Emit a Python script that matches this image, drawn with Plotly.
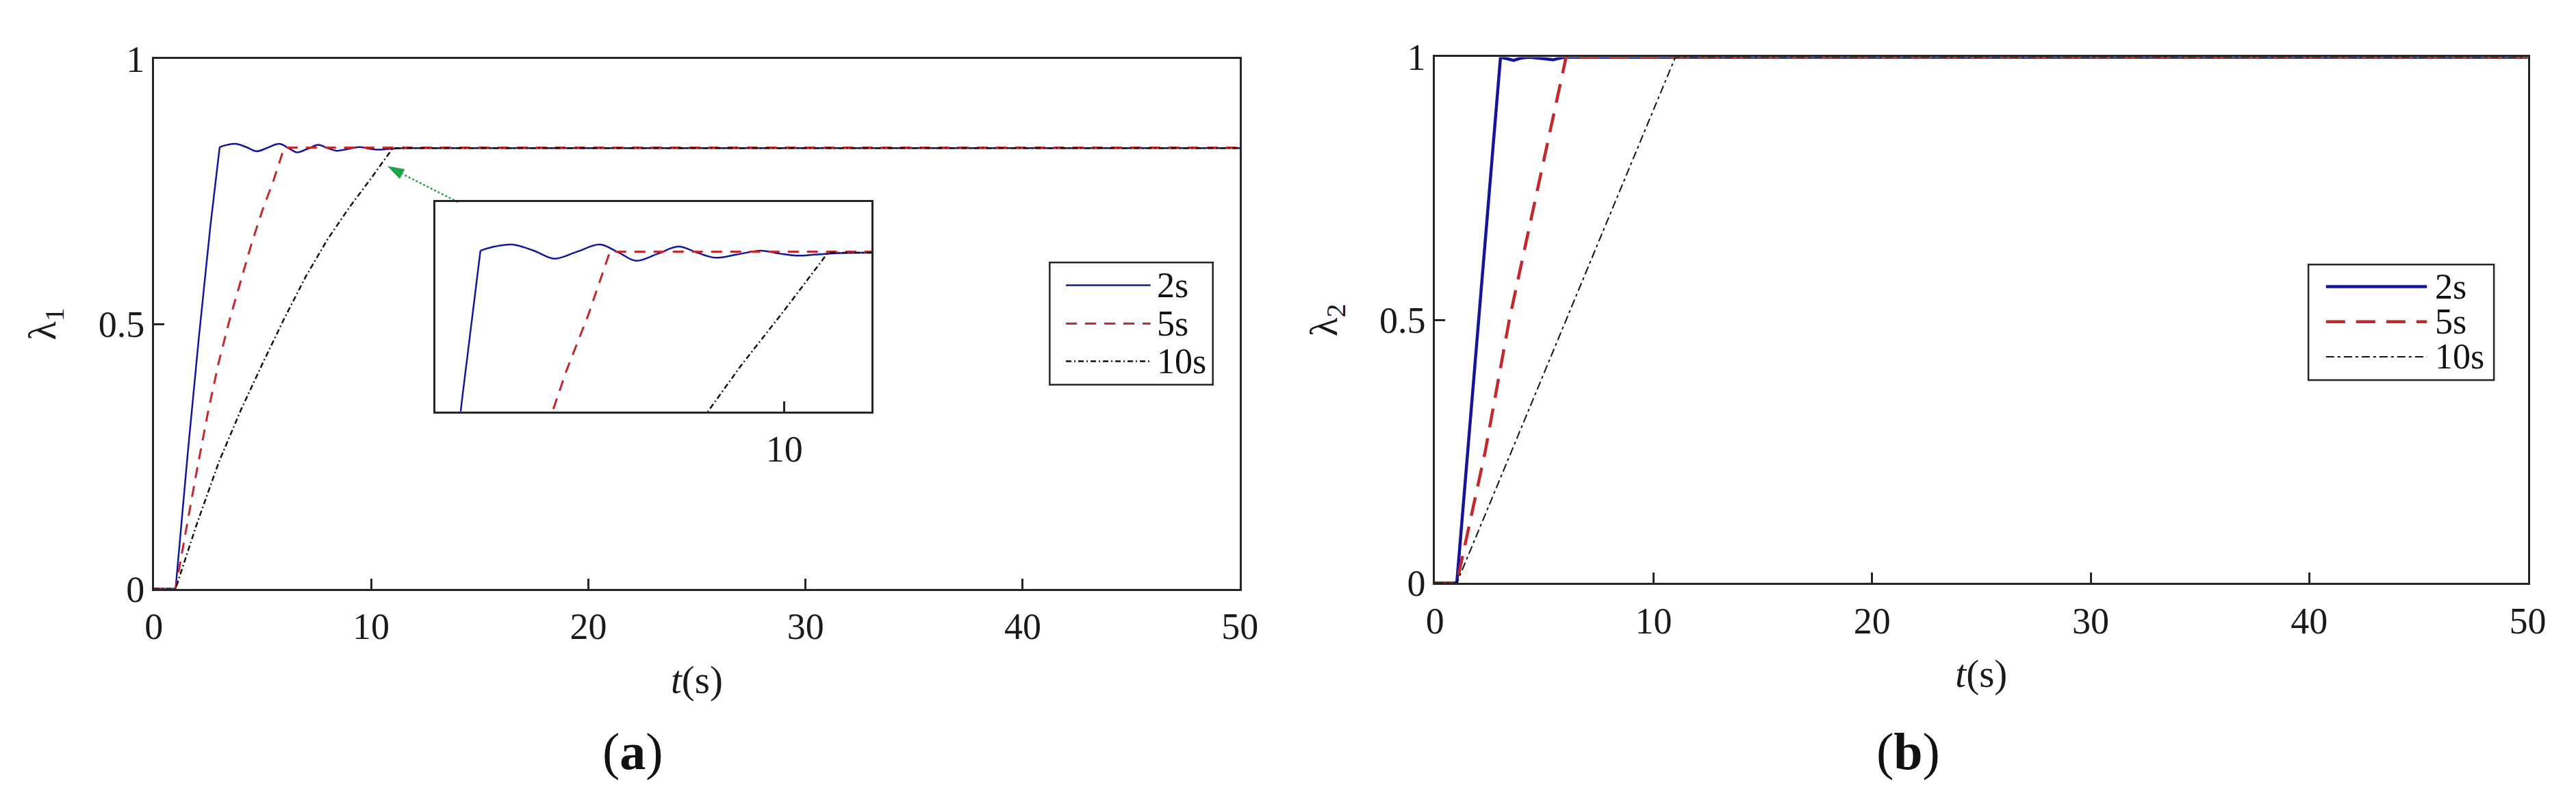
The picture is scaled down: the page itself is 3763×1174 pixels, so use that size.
import plotly.graph_objects as go

W, H = 3763, 1174
FONT = "Liberation Serif"

# ---------------- data: panel (a), lambda_1 ----------------
t_a_2s = [0, 1.0, 1.56, 2.08, 2.60, 3.03, 3.35, 3.76, 4.25, 4.73, 5.25, 5.77, 6.20, 6.60,
          7.10, 7.57, 8.00, 8.41, 8.90, 9.45, 9.90, 10.28, 10.70, 11.20, 12.0, 50.0]
v_a_2s = [0, 0, 0.256, 0.478, 0.684, 0.834, 0.838, 0.840, 0.834, 0.826, 0.833, 0.840, 0.832, 0.824,
          0.831, 0.838, 0.832, 0.827, 0.830, 0.834, 0.831, 0.829, 0.830, 0.8315, 0.832, 0.832]
knee_a_2s = 5

t_a_5s = [0, 1, 1.5, 2, 2.5, 3, 3.5, 4, 4.5, 5, 5.5, 6, 50]
v_a_5s = [0, 0, 0.115, 0.228, 0.335, 0.43, 0.51, 0.58, 0.652, 0.715, 0.77, 0.833, 0.833]

t_a_10s = [0, 1, 2, 3, 4, 5, 6, 7, 8, 9, 10, 11, 50]
v_a_10s = [0, 0, 0.125, 0.24, 0.337, 0.425, 0.51, 0.59, 0.66, 0.72, 0.775, 0.832, 0.832]

# ---------------- data: panel (b), lambda_2 ----------------
t_b_2s = [0, 1, 1.5, 2, 2.5, 3, 3.3, 3.6, 3.9, 4.3, 5.0, 5.4, 5.8, 6.2, 50]
v_b_2s = [0, 0, 0.25, 0.5, 0.75, 1.0, 0.997, 0.994, 0.998, 1.0, 0.997, 0.995, 0.999, 1.0, 1.0]

t_b_5s = [0, 1, 2.3, 3.4, 4.7, 6, 50]
v_b_5s = [0, 0, 0.25, 0.5, 0.75, 1.0, 1.0]

t_b_10s = [0, 1, 6, 11, 50]
v_b_10s = [0, 0, 0.5, 1.0, 1.0]

series_labels = ["2s", "5s", "10s"]
x_ticks = [0, 10, 20, 30, 40, 50]
y_ticks = [0, 0.5, 1]
y_ticktext = ["0", "0.5", "1"]
inset_x_ticks = [10]

# pointer (zoom arrow) in panel (a) data coordinates: tail at inset, head at curve
arrow_tail = (14.0, 0.730)
arrow_base = (11.45, 0.783)
arrow_head = (10.75, 0.798)

BLUE = "#15159a"
RED = "#c3282d"
BLACK = "#111111"
GREEN = "#1ea34a"

style_a = [dict(color=BLUE, width=2.5, dash="solid"),
           dict(color=RED, width=3, dash="16px,12px"),
           dict(color=BLACK, width=2.5, dash="8px,4px,2px,4px")]
style_b = [dict(color=BLUE, width=4.5, dash="solid"),
           dict(color=RED, width=4.5, dash="28px,16px"),
           dict(color=BLACK, width=2, dash="12px,5px,4px,5px")]

fig = go.Figure()


def add_series(xa, ya, t, v, style, knee=None):
    if knee is None:
        fig.add_trace(go.Scatter(x=t, y=v, mode="lines", line=style, xaxis=xa, yaxis=ya,
                                 showlegend=False, hoverinfo="skip"))
    else:
        fig.add_trace(go.Scatter(x=t[:knee + 1], y=v[:knee + 1], mode="lines", line=style,
                                 xaxis=xa, yaxis=ya, showlegend=False, hoverinfo="skip"))
        fig.add_trace(go.Scatter(x=t[knee:], y=v[knee:], mode="lines",
                                 line=dict(style, shape="spline", smoothing=1.0),
                                 xaxis=xa, yaxis=ya, showlegend=False, hoverinfo="skip"))


# main panel (a)
add_series("x", "y", t_a_2s, v_a_2s, style_a[0], knee_a_2s)
add_series("x", "y", t_a_5s, v_a_5s, style_a[1])
add_series("x", "y", t_a_10s, v_a_10s, style_a[2])
# inset of panel (a) (same data, zoomed)
add_series("x3", "y3", t_a_2s, v_a_2s, style_a[0], knee_a_2s)
add_series("x3", "y3", t_a_5s, v_a_5s, style_a[1])
add_series("x3", "y3", t_a_10s, v_a_10s, style_a[2])
# panel (b)
add_series("x2", "y2", t_b_2s, v_b_2s, style_b[0])
add_series("x2", "y2", t_b_5s, v_b_5s, style_b[1])
add_series("x2", "y2", t_b_10s, v_b_10s, style_b[2])

# green dotted pointer with an arrowhead marker
fig.add_trace(go.Scatter(x=[arrow_tail[0], arrow_base[0]], y=[arrow_tail[1], arrow_base[1]],
                         mode="lines", line=dict(color=GREEN, width=2.5, dash="dot"),
                         xaxis="x", yaxis="y", showlegend=False, hoverinfo="skip"))
fig.add_trace(go.Scatter(x=[arrow_head[0]], y=[arrow_head[1]], mode="markers",
                         marker=dict(symbol="arrow", size=26, angle=-62, color=GREEN,
                                     line=dict(width=0)),
                         xaxis="x", yaxis="y", showlegend=False, hoverinfo="skip"))

AX = "#262626"
tickfont = dict(family=FONT, size=54, color="#1a1a1a")
common = dict(showline=True, linecolor=AX, linewidth=2.5, mirror=True, ticks="inside",
              ticklen=15, tickwidth=2.5, tickcolor=AX, showgrid=False, zeroline=False,
              tickfont=tickfont)


def dx(p0, p1):
    return [p0 / W, p1 / W]


def dy(ptop, pbot):
    return [(H - pbot) / H, (H - ptop) / H]


title_font = dict(family=FONT, size=57, color="#1a1a1a")

fig.update_layout(
    width=W, height=H, margin=dict(l=0, r=0, t=0, b=0),
    paper_bgcolor="white", plot_bgcolor="rgba(0,0,0,0)",
    xaxis=dict(common, domain=dx(205, 1809), range=[0, 50], tickvals=x_ticks, anchor="y",
               ticklabelstandoff=6,
               title=dict(text="<i>t</i>(s)", font=title_font, standoff=28)),
    yaxis=dict(common, domain=dy(52, 867), range=[0, 1], tickvals=y_ticks, ticktext=y_ticktext,
               anchor="x", title=dict(text="λ<sub>1</sub>", font=title_font, standoff=44)),
    xaxis2=dict(common, domain=dx(2097, 3711), range=[0, 50], tickvals=x_ticks, anchor="y2",
                ticklabelstandoff=6,
                title=dict(text="<i>t</i>(s)", font=title_font, standoff=28)),
    yaxis2=dict(common, domain=dy(49, 858), range=[0, 1], tickvals=y_ticks, ticktext=y_ticktext,
                anchor="x2", title=dict(text="λ<sub>2</sub>", font=title_font, standoff=44)),
    xaxis3=dict(common, domain=dx(621, 1265), range=[2, 12], tickvals=inset_x_ticks, anchor="y3",
                ticklabelstandoff=6),
    yaxis3=dict(common, domain=dy(272, 594), range=[0.675, 0.882], tickvals=[],
                showticklabels=False, anchor="x3"),
)

# inset background (white) behind the inset lines
fig.add_shape(type="rect", xref="paper", yref="paper", x0=621 / W, x1=1265 / W,
              y0=(H - 594) / H, y1=(H - 272) / H, fillcolor="white", line=dict(width=0),
              layer="below")


# manual legend boxes (MATLAB style, long line samples)
def add_legend(bx0, bx1, by0, by1, lx0, lx1, rows, tx, styles):
    fig.add_shape(type="rect", xref="paper", yref="paper", x0=bx0 / W, x1=bx1 / W,
                  y0=(H - by1) / H, y1=(H - by0) / H, fillcolor="white",
                  line=dict(color=AX, width=2.5))
    for lab, ry, st in zip(series_labels, rows, styles):
        fig.add_shape(type="line", xref="paper", yref="paper", x0=lx0 / W, x1=lx1 / W,
                      y0=(H - ry) / H, y1=(H - ry) / H,
                      line=dict(color=st["color"], width=st["width"], dash=st["dash"]))
        fig.add_annotation(x=tx / W, y=(H - ry) / H, xref="paper", yref="paper", text=lab,
                           showarrow=False, xanchor="left", yanchor="middle",
                           font=dict(family=FONT, size=52, color="#111111"))


add_legend(1528, 1769, 365, 553, 1552, 1677, [400, 459, 517], 1684, style_a)
add_legend(3387, 3661, 368, 546, 3413, 3562, [402, 456, 510], 3572, style_b)

# sub-figure captions
for txt, cx in [("(<b>a</b>)", 912), ("(<b>b</b>)", 2796)]:
    fig.add_annotation(x=cx / W, y=(H - 1118) / H, xref="paper", yref="paper", text=txt,
                       showarrow=False, xanchor="center", yanchor="middle",
                       font=dict(family=FONT, size=76, color="#111111"))

fig.write_html("out.html")
